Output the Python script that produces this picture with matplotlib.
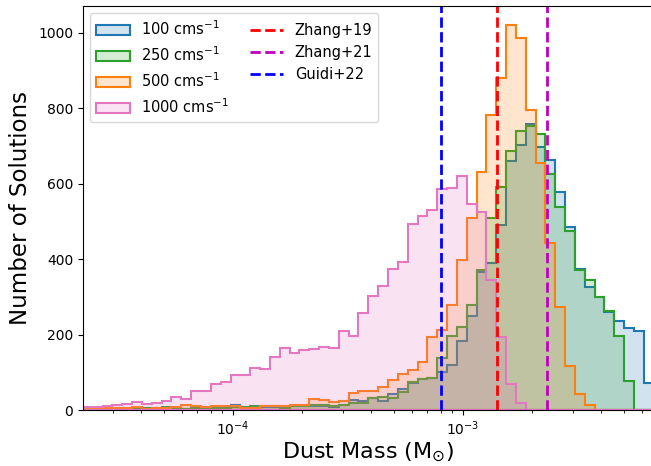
import numpy as np
import matplotlib
matplotlib.use("Agg")
import matplotlib.pyplot as plt
from matplotlib.colors import to_rgba

# log-spaced bin edges (log10 of first edge, bin width in dex, number of bins)
log_lo = -4.6524
dlog = 0.042783
n_bins = 58
edges = 10 ** (log_lo + dlog * np.arange(n_bins + 1))
centers = np.sqrt(edges[:-1] * edges[1:])

labels = ['100 cms$^{-1}$', '250 cms$^{-1}$', '500 cms$^{-1}$', '1000 cms$^{-1}$']
colors = ['tab:blue', 'tab:green', 'tab:orange', 'tab:pink']

counts_100 = [1, 2, 2, 3, 6, 4, 4, 3, 5, 4,
              3, 5, 5, 6, 5, 14, 5, 7, 7, 8,
              8, 10, 10, 10, 10, 7, 13, 27, 25, 33,
              25, 42, 55, 71, 82, 86, 102, 118, 183, 249,
              365, 389, 491, 661, 703, 759, 698, 663, 579, 485,
              373, 325, 299, 259, 237, 217, 210, 72]
counts_250 = [2, 2, 3, 3, 3, 4, 4, 5, 7, 6,
              3, 5, 6, 5, 5, 8, 7, 11, 11, 10,
              4, 10, 11, 13, 13, 11, 13, 18, 19, 33,
              35, 33, 49, 73, 82, 86, 137, 196, 221, 279,
              370, 510, 590, 686, 740, 752, 732, 625, 539, 475,
              371, 345, 299, 263, 197, 78, 0, 0]
counts_500 = [2, 2, 4, 4, 4, 8, 3, 4, 6, 7,
              12, 10, 9, 10, 10, 11, 4, 4, 10, 11,
              11, 12, 12, 28, 27, 22, 25, 46, 50, 50,
              60, 80, 95, 107, 127, 193, 213, 279, 398, 508,
              632, 782, 880, 1020, 986, 796, 655, 444, 274, 117,
              42, 13, 0, 0, 0, 0, 0, 0]
counts_1000 = [7, 7, 10, 14, 15, 21, 16, 19, 25, 35,
               30, 51, 51, 69, 74, 92, 92, 112, 108, 140,
               164, 150, 160, 162, 168, 164, 210, 195, 256, 301,
               329, 373, 392, 493, 513, 531, 585, 588, 621, 546,
               526, 344, 193, 69, 18, 0, 0, 0, 0, 0,
               0, 0, 0, 0, 0, 0, 0, 0]
series = [counts_100, counts_250, counts_500, counts_1000]

ref_names = ['Zhang+19', 'Zhang+21', 'Guidi+22']
ref_values = [1.41e-3, 2.32e-3, 8.0e-4]
ref_colors = ['r', 'm', 'b']

W, H = 651, 466
fig = plt.figure(figsize=(W / 100, H / 100), dpi=100)
ax = fig.add_axes([82.9 / W, 1 - 410 / H, (653.7 - 82.9) / W, (410 - 6) / H])

for cnt, lab, col in zip(series, labels, colors):
    ax.hist(centers, bins=edges, weights=cnt, histtype='stepfilled',
            facecolor=to_rgba(col, 0.2), edgecolor=col, linewidth=1.5, label=lab)

for name, val, col in zip(ref_names, ref_values, ref_colors):
    ax.axvline(val, color=col, linestyle='--', linewidth=2, label=name)

ax.set_xscale('log')
ax.set_xlim(edges[0], edges[-1])
ax.set_ylim(0, 1071)
ax.set_yticks([0, 200, 400, 600, 800, 1000])
ax.tick_params(labelsize=10)
ax.set_xlabel('Dust Mass (M$_{\\odot}$)', fontsize=16, labelpad=2)
ax.set_ylabel('Number of Solutions', fontsize=16.5)
ax.legend(loc='upper left', ncol=2, fontsize=10.5, handlelength=2.3,
          columnspacing=1.4)

fig.savefig('out.png', dpi=100)
